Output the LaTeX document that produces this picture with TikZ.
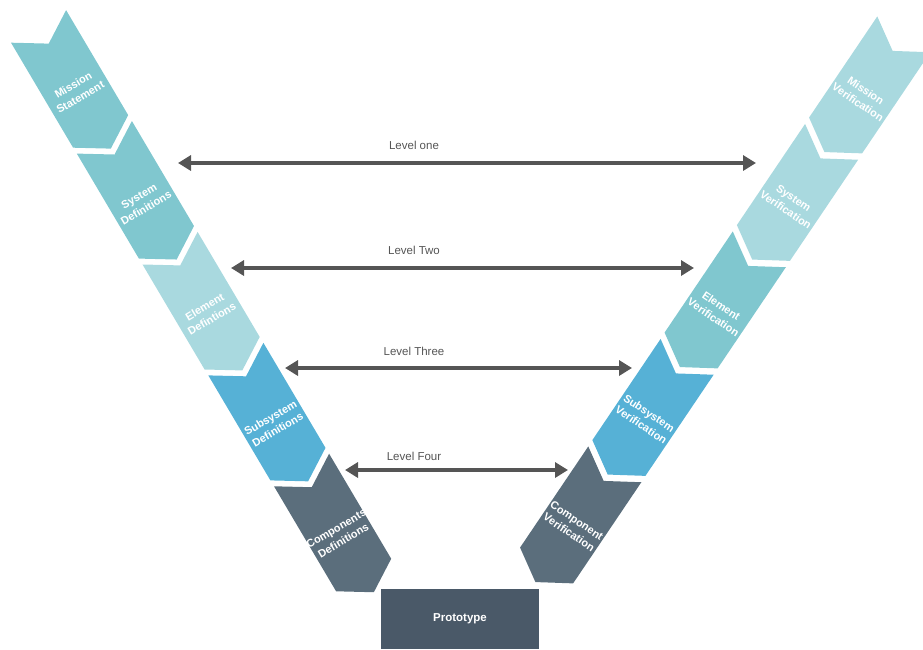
\documentclass[tikz,border=0pt]{standalone}
\usepackage{fontspec}
\setmainfont{Liberation Sans}
\usetikzlibrary{arrows.meta}

\definecolor{vteal}{HTML}{80C7CF}
\definecolor{vlight}{HTML}{A9D9DF}
\definecolor{vblue}{HTML}{56B1D6}
\definecolor{vslate}{HTML}{5B6E7C}
\definecolor{vproto}{HTML}{4A5968}
\definecolor{vline}{HTML}{555555}

\tikzset{
  chevtext/.style={text=white, align=center, inner sep=0pt,
    font=\bfseries\fontsize{11}{14}\selectfont},
  levelarrow/.style={draw=vline, line width=4pt,
    {Triangle[length=13pt,width=15pt]}-{Triangle[length=13pt,width=15pt]}},
  leveltext/.style={text=vline, inner sep=0pt, font=\fontsize{11.5}{13}\selectfont},
  protobox/.style={fill=vproto, text=white, minimum width=158pt, minimum height=60pt,
    inner sep=0pt, font=\bfseries\fontsize{11.5}{13}\selectfont},
}

% chevron stage: name, x, y, angle, fill colour, label
\newcommand\vstage[6]{%
  \begin{scope}[shift={(#2,#3)}, rotate=#4]
    \fill[#5] (-32,-61) -- (0,-41) -- (32,-61) -- (32,61) -- (0,81) -- (-32,61) -- cycle;
    \node[chevtext, rotate=#4] (#1) at (0,14) {#6};
  \end{scope}}

\begin{document}
\begin{tikzpicture}[x=1pt, y=-1pt]
  \useasboundingbox (0,0) rectangle (923,649);
  \clip (0,0) rectangle (923,649);

  % definition side
  \vstage{ms}{69.6}{78.9}{30.6}{vteal}{Mission\\Statement}
  \vstage{sd}{135.4}{189.8}{30.6}{vteal}{System\\Definitions}
  \vstage{ed}{201.1}{300.7}{30.6}{vlight}{Element\\Defintions}
  \vstage{ssd}{266.9}{411.6}{30.6}{vblue}{Subsystem\\Definitions}
  \vstage{cd}{332.6}{522.5}{30.6}{vslate}{Components\\Definitions}

  % verification side
  \vstage{mv}{869.7}{84.9}{-34}{vlight}{Mission\\Verification}
  \vstage{sv}{797.5}{192.4}{-34}{vlight}{System\\Verification}
  \vstage{ev}{725.2}{299.9}{-34}{vteal}{Element\\Verification}
  \vstage{ssv}{653.0}{407.4}{-34}{vblue}{Subsystem\\Verification}
  \vstage{cv}{580.7}{514.9}{-34}{vslate}{Component\\Verification}

  % prototype at the bottom of the V
  \node[protobox] (proto) at (460,619) {Prototype};

  % level connectors
  \coordinate (l1a) at (178,163); \coordinate (l1b) at (756,163);
  \coordinate (l2a) at (231,268); \coordinate (l2b) at (694,268);
  \coordinate (l3a) at (285,368); \coordinate (l3b) at (632,368);
  \coordinate (l4a) at (345,470); \coordinate (l4b) at (568,470);
  \draw[levelarrow] (l1a) -- (l1b);
  \draw[levelarrow] (l2a) -- (l2b);
  \draw[levelarrow] (l3a) -- (l3b);
  \draw[levelarrow] (l4a) -- (l4b);
  \node[leveltext] (t1) at (414,145) {Level one};
  \node[leveltext] (t2) at (414,250) {Level Two};
  \node[leveltext] (t3) at (414,351) {Level Three};
  \node[leveltext] (t4) at (414,456) {Level Four};
\end{tikzpicture}
\end{document}
